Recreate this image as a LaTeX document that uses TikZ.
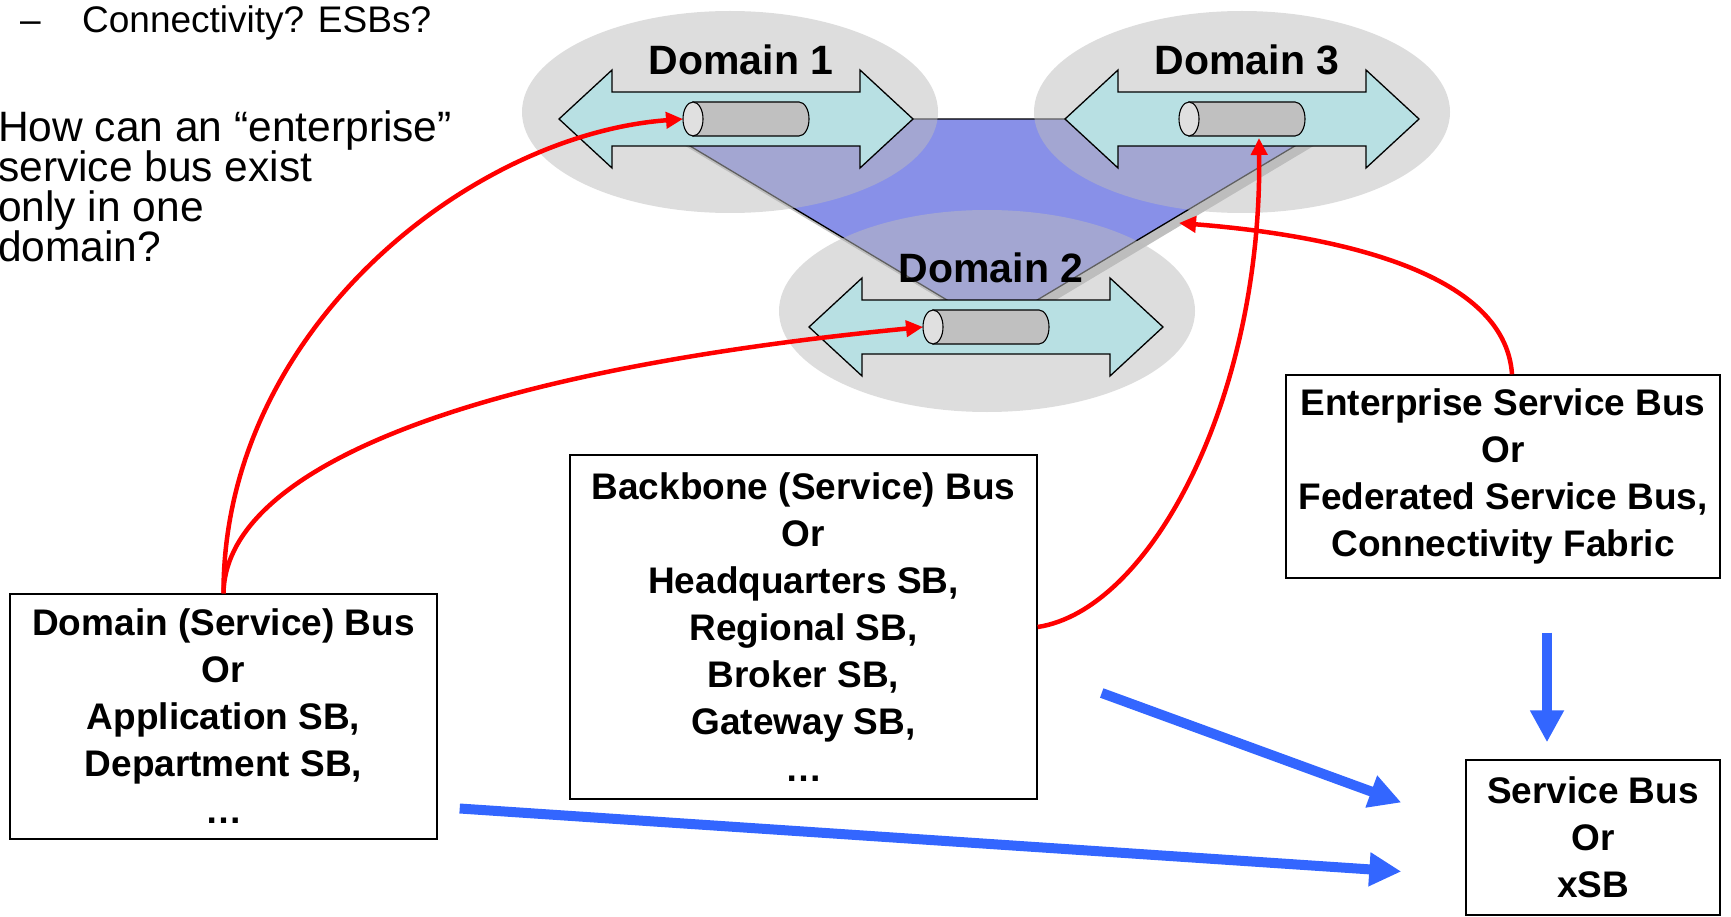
\documentclass[tikz,border=0pt]{standalone}
\usepackage{fontspec}
\setmainfont{Liberation Sans}
\usetikzlibrary{arrows.meta}
\definecolor{planecolor}{HTML}{8890E8}
\definecolor{shadecolor}{HTML}{BDBDBD}
\definecolor{pipecolor}{HTML}{B8E0E3}
\definecolor{cylcolor}{HTML}{C0C0C0}
\definecolor{capcolor}{HTML}{E0E0E0}
\definecolor{redcolor}{HTML}{FF0000}
\definecolor{bluecolor}{HTML}{3366FF}
\newcommand{\tightlines}{\lineskiplimit=-100pt\relax\lineskip=0pt\relax}

\begin{document}
\begin{tikzpicture}[x=1pt, y=-1pt,
  busbox/.style={draw, line width=1.4pt, align=center, inner sep=0pt,
    font=\fontsize{37}{47}\selectfont\bfseries},
  domlabel/.style={anchor=base, inner sep=0pt, font=\fontsize{41}{41}\selectfont\bfseries},
  redlink/.style={redcolor, line width=4.5pt, -{Triangle[length=17pt,width=16pt]}},
  bluelink/.style={bluecolor, line width=10pt, -{Triangle[length=32pt,width=32pt]}}]
  \useasboundingbox (0,0) rectangle (1731,917);
  % Slide text
  \node[anchor=base west, inner sep=0pt, font=\fontsize{37}{37}\selectfont] (dash) at (20,33) {–};
  \node[anchor=base west, inner sep=0pt, font=\fontsize{37}{37}\selectfont] (bullet) at (82,33) {Connectivity? ESBs?};
  \node[anchor=north west, inner sep=0pt, align=left,
    font=\fontsize{42.5}{40}\selectfont\tightlines] (question) at (-2,111)
    {How can an “enterprise”\\service bus exist\\only in one\\domain?};
  % Plane joining the domains (shadow first)
  \fill[black!25, shift={(7,7)}] (645,119) -- (1340,119) -- (992,327) -- cycle;
  \filldraw[fill=planecolor, draw=black, line width=1.3pt] (645,119) -- (1340,119) -- (992,327) -- cycle;
  % Domain halos
  \foreach \ex/\ey in {730/112, 987/311, 1242/112}
    \fill[shadecolor, fill opacity=0.51] (\ex,\ey) ellipse [x radius=208pt, y radius=101pt];
  % Domain buses
  \foreach \i/\cx/\cy/\px in {1/736/119/746, 2/986/327/986, 3/1242/119/1242} {
    \filldraw[fill=pipecolor, draw=black, line width=1.3pt]
      (\cx-177,\cy) -- (\cx-124,\cy-49) -- (\cx-124,\cy-27) -- (\cx+124,\cy-27) --
      (\cx+124,\cy-49) -- (\cx+177,\cy) -- (\cx+124,\cy+49) -- (\cx+124,\cy+27) --
      (\cx-124,\cy+27) -- (\cx-124,\cy+49) -- cycle;
    \filldraw[fill=cylcolor, draw=black, line width=1.1pt]
      (\px-53,\cy-17) -- (\px+53,\cy-17) arc[start angle=90, end angle=-90, x radius=10pt, y radius=17pt]
      -- (\px-53,\cy+17) -- cycle;
    \filldraw[fill=capcolor, draw=black, line width=1.1pt] (\px-53,\cy) ellipse [x radius=10pt, y radius=17pt];
    \coordinate (pipe\i) at (\px-63,\cy);
    \coordinate (pipebot\i) at (\px+17,\cy+19);
    \node[domlabel] (dom\i) at (\cx+5,\cy-44) {Domain \i};
  }
  % Bus boxes
  \node[busbox, minimum width=427pt, minimum height=245pt] (dombus) at (223.5,716.5)
    {Domain (Service) Bus\\Or\\Application SB,\\Department SB,\\…};
  \node[busbox, minimum width=467pt, minimum height=344pt] (bbbus) at (803.5,627)
    {Backbone (Service) Bus\\Or\\Headquarters SB,\\Regional SB,\\Broker SB,\\Gateway SB,\\…};
  \node[busbox, minimum width=434pt, minimum height=203pt] (esb) at (1503,476.5)
    {Enterprise Service Bus\\Or\\Federated Service Bus,\\Connectivity Fabric};
  \node[busbox, minimum width=254pt, minimum height=155pt] (sb) at (1593,837.5)
    {Service Bus\\Or\\xSB};
  % Red links into the domains
  \coordinate (planeedge) at (1179,223);
  \draw[redlink] (dombus.north) .. controls (223,330) and (470,135) .. (pipe1);
  \draw[redlink] (dombus.north) .. controls (225,480) and (430,375) .. (pipe2);
  \draw[redlink] (bbbus.east) .. controls (1150,610) and (1262,400) .. (pipebot3);
  \draw[redlink] ([xshift=9pt]esb.north) .. controls (1505,270) and (1330,235) .. (planeedge);
  % Blue arrows to the generic service bus
  \draw[bluelink] ([xshift=22pt,yshift=-92pt]dombus.east) -- ([xshift=-64pt,yshift=-34pt]sb.west);
  \draw[bluelink] ([xshift=64pt,yshift=-66pt]bbbus.east) -- ([xshift=-64pt,yshift=35pt]sb.west);
  \draw[bluelink] ([xshift=44pt,yshift=-54pt]esb.south) -- ([xshift=-46pt,yshift=17pt]sb.north);
\end{tikzpicture}
\end{document}
